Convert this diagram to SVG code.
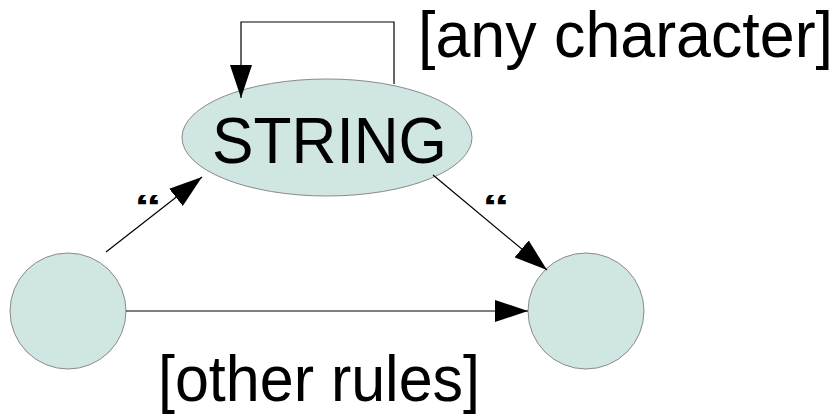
<svg xmlns="http://www.w3.org/2000/svg" width="840" height="415" viewBox="0 0 840 415">
  <style>
    .state { fill: #cfe6e3; stroke: #8a8a8a; stroke-width: 1; }
    .edge { fill: none; stroke: #000; stroke-width: 1.2; }
    .label { font-family: "Liberation Sans", Arial, sans-serif; fill: #000; }
    .big { font-size: 64px; }
    .quote { font-size: 56px; font-weight: bold; }
  </style>
  <defs>
    <marker id="arrow" markerUnits="userSpaceOnUse" markerWidth="33" markerHeight="22" refX="33" refY="11" orient="auto">
      <path d="M0,0 L33,11 L0,22 z" fill="#000"/>
    </marker>
  </defs>
  <rect width="840" height="415" fill="#fff"/>

  <g id="node-string">
    <ellipse class="state" cx="327" cy="137.5" rx="145" ry="58.5"/>
    <text class="label" x="212" y="163" font-size="64" textLength="235" lengthAdjust="spacingAndGlyphs">STRING</text>
  </g>
  <g id="node-start">
    <circle class="state" cx="68" cy="311" r="58"/>
  </g>
  <g id="node-end">
    <circle class="state" cx="586" cy="311" r="58"/>
  </g>

  <g id="connectors">
    <path class="edge" d="M394,84 V22 H241 V98" marker-end="url(#arrow)"/>
    <line class="edge" x1="106" y1="252" x2="202" y2="177" marker-end="url(#arrow)"/>
    <line class="edge" x1="433" y1="175" x2="547" y2="270" marker-end="url(#arrow)"/>
    <line class="edge" x1="126" y1="311" x2="528" y2="311" marker-end="url(#arrow)"/>
  </g>

  <g id="labels">
    <text class="label big" x="418" y="57" textLength="415" lengthAdjust="spacingAndGlyphs">[any character]</text>
    <text class="label quote" transform="translate(134,217.5) scale(1,0.6)">“</text>
    <text class="label quote" transform="translate(482,217.5) scale(1,0.6)">“</text>
    <text class="label big" x="158" y="401" textLength="322" lengthAdjust="spacingAndGlyphs">[other rules]</text>
  </g>
</svg>
